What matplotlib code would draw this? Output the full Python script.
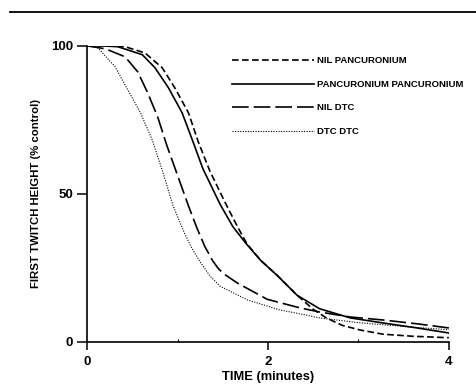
import matplotlib
matplotlib.use("Agg")
import matplotlib.pyplot as plt
from matplotlib.lines import Line2D

# -----------------------------
# Data
# -----------------------------
labels = ["NIL PANCURONIUM", "PANCURONIUM PANCURONIUM", "NIL DTC", "DTC DTC"]

t_nil_panc = [0, 0.2, 0.42, 0.64, 0.83, 0.97, 1.12, 1.23, 1.36, 1.55, 1.67, 1.77, 1.92,
              2.10, 2.32, 2.5, 2.65, 2.82, 3.02, 3.27, 3.6, 4.0]
y_nil_panc = [100, 100, 99.7, 97.6, 92.6, 85.8, 77.4, 67.5, 57.5, 45.6, 38.5, 33, 27.5,
              22.5, 15.8, 11, 8, 5.6, 4.0, 2.6, 1.9, 1.4]

t_panc_panc = [0, 0.15, 0.34, 0.61, 0.75, 0.90, 1.05, 1.16, 1.28, 1.47, 1.61, 1.75, 1.92,
               2.10, 2.32, 2.57, 2.69, 2.91, 3.27, 3.65, 4.0]
y_panc_panc = [100, 100, 99.7, 97, 92.6, 85.8, 77.4, 68.5, 58.5, 46.5, 39, 33.5, 27.5,
               22.5, 15.8, 11.2, 10.1, 8.1, 6.4, 4.7, 3.0]

t_nil_dtc = [0, 0.2, 0.42, 0.56, 0.67, 0.78, 0.88, 0.99, 1.12, 1.21, 1.30, 1.39, 1.45, 1.51,
             1.66, 1.99, 2.35, 2.57, 2.91, 3.27, 3.65, 4.0]
y_nil_dtc = [100, 99, 96.3, 91.2, 84.1, 76, 66.5, 57.1, 46, 38.8, 32.3, 27.3, 24.8, 23,
             19.9, 14.4, 11.5, 10.1, 8.4, 7.4, 6.1, 4.7]

t_dtc_dtc = [0, 0.12, 0.31, 0.45, 0.59, 0.72, 0.84, 0.95, 1.08, 1.16, 1.25, 1.36, 1.47,
             1.77, 2.13, 2.35, 2.57, 3.0, 3.5, 4.0]
y_dtc_dtc = [100, 99.3, 92.9, 85.1, 77.4, 68.2, 57.1, 46, 36.5, 31.5, 27, 22.2, 18.8,
             14.2, 10.8, 9.5, 8.1, 6.5, 5.2, 4.1]

x_ticks = [0, 2, 4]
y_ticks = [0, 50, 100]

# -----------------------------
# Style
# -----------------------------
plt.rcParams["font.family"] = ["Liberation Sans Narrow", "Liberation Sans", "DejaVu Sans"]
plt.rcParams["font.weight"] = "bold"
plt.rcParams["axes.labelweight"] = "bold"

fig = plt.figure(figsize=(4.76, 3.85), dpi=100)
ax = fig.add_axes([0.183, 0.112, 0.760, 0.769])

lw = 1.2
ax.plot(t_nil_panc, y_nil_panc, color="black", lw=lw, ls=(0, (4, 2)), label=labels[0])
ax.plot(t_panc_panc, y_panc_panc, color="black", lw=lw, ls="-", label=labels[1])
ax.plot(t_nil_dtc, y_nil_dtc, color="black", lw=lw, ls=(0, (10, 3)), label=labels[2])
ax.plot(t_dtc_dtc, y_dtc_dtc, color="black", lw=0.8, ls=(0, (1, 1.3)), label=labels[3])

ax.set_xlim(0, 4)
ax.set_ylim(0, 100)
ax.set_xticks(x_ticks)
ax.set_yticks(y_ticks)
ax.set_xticks([1, 3], minor=True)
ax.tick_params(axis="y", which="major", direction="out", length=7, width=1.1,
               labelsize=9.5, pad=3)
ax.tick_params(axis="x", which="major", direction="out", length=6, width=1.1,
               labelsize=9.5, pad=4)
ax.tick_params(axis="x", which="minor", direction="in", length=2, width=0.8)

for side in ["top", "right"]:
    ax.spines[side].set_visible(False)
for side in ["left", "bottom"]:
    ax.spines[side].set_linewidth(1.2)

ax.set_xlabel("TIME (minutes)", fontsize=9.3, labelpad=2)
ax.set_ylabel("FIRST TWITCH HEIGHT (% control)", fontsize=8.2, labelpad=7)

leg = ax.legend(loc="upper left", bbox_to_anchor=(0.40, 0.965), frameon=False,
                handlelength=8.7, handletextpad=0.3, labelspacing=1.55,
                borderpad=0, borderaxespad=0, fontsize=6.8)

# page rule at the top of the scan
fig.add_artist(Line2D([0.02, 1.0], [0.969, 0.969], color="black", lw=1.3,
                      transform=fig.transFigure))

plt.savefig("out.png", dpi=100)
